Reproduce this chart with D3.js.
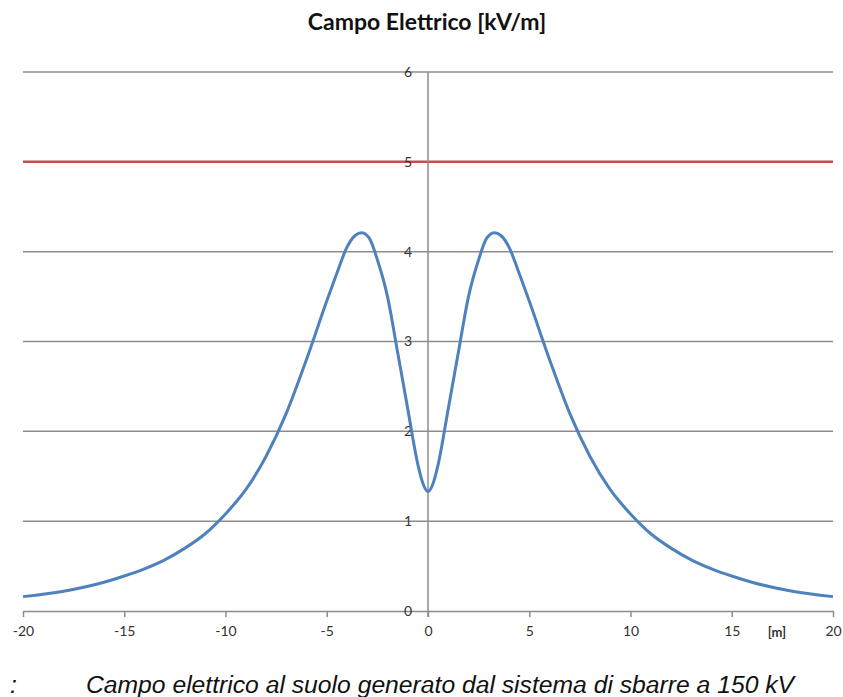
<!DOCTYPE html>
<html><head><meta charset="utf-8">
<script src="https://cdn.jsdelivr.net/npm/d3@7"></script>
<style>body{margin:0;background:#fff}svg{display:block}</style>
</head><body>
<svg id="c" width="843" height="697"></svg>
<script>
const xValues = [-20,-18,-16,-15,-14,-13,-12,-11,-10,-9,-8,-7,-6,-5,-4.5,-4,-3.6,-3.27,-2.9,-2.5,-2,-1.5,-1,-0.5,-0.25,0,
  0.25,0.5,1,1.5,2,2.5,2.9,3.27,3.6,4,4.5,5,6,7,8,9,10,11,12,13,14,15,16,18,20];
const eValues = [0.16,0.22,0.32,0.39,0.47,0.57,0.70,0.86,1.08,1.35,1.72,2.2,2.8,3.45,3.76,4.05,4.18,4.21,4.15,3.91,3.5,2.88,2.25,1.63,1.42,1.33,
  1.42,1.63,2.25,2.88,3.5,3.91,4.15,4.21,4.18,4.05,3.76,3.45,2.8,2.2,1.72,1.35,1.08,0.86,0.70,0.57,0.47,0.39,0.32,0.22,0.16];
const limitValue = 5;
const xTicks = [-20,-15,-10,-5,0,5,10,15,20];
const yTicks = [0,1,2,3,4,5,6];
const title = "Campo Elettrico [kV/m]";
const unitLabel = "[m]";
const caption = "Campo elettrico al suolo generato dal sistema di sbarre a 150 kV";

const svg = d3.select("#c");
const x = d3.scaleLinear().domain([-20,20]).range([23,833]);
const y = d3.scaleLinear().domain([0,6]).range([611,72]);
const tickFont = "Lato, 'Open Sans', sans-serif";

// horizontal gridlines
svg.append("g").selectAll("line").data(yTicks.filter(d=>d>0)).join("line")
  .attr("x1",x(-20)).attr("x2",x(20)).attr("y1",d=>y(d)).attr("y2",d=>y(d))
  .attr("stroke","#8c8c8c").attr("stroke-width",1.5);

// limit line
svg.append("line").attr("x1",x(-20)).attr("x2",x(20)).attr("y1",y(limitValue)).attr("y2",y(limitValue))
  .attr("stroke","#c0504d").attr("stroke-width",2.5);

// x axis
const xAxis = svg.append("g").attr("transform",`translate(0,${y(0)})`)
  .call(d3.axisBottom(x).tickValues(xTicks).tickSize(6).tickSizeOuter(0).tickPadding(9).tickFormat(d=>String(d)));
xAxis.select(".domain").attr("stroke","#8c8c8c").attr("stroke-width",1.5);
xAxis.selectAll(".tick line").attr("stroke","#8c8c8c").attr("stroke-width",1.5);
xAxis.selectAll(".tick text").attr("font-family",tickFont).attr("font-size",14).attr("fill","#333");

// y axis at x=0
const yAxis = svg.append("g").attr("transform",`translate(${x(0)},0)`)
  .call(d3.axisLeft(y).tickValues(yTicks).tickSize(0).tickPadding(16).tickFormat(d=>String(d)));
yAxis.select(".domain").attr("stroke","#8c8c8c").attr("stroke-width",1.5)
  .attr("d",`M0,${y(6)}V${y(0)+6}`);
yAxis.selectAll(".tick text").attr("font-family",tickFont).attr("font-size",14).attr("fill","#333");

// curve
const line = d3.line().x((d,i)=>x(xValues[i])).y(d=>y(d)).curve(d3.curveMonotoneX);
svg.append("path").datum(eValues).attr("d",line).attr("fill","none")
  .attr("stroke","#4f81bd").attr("stroke-width",3);

// title
svg.append("text").attr("x",427).attr("y",30).attr("text-anchor","middle")
  .attr("font-family",tickFont).attr("font-weight","bold").attr("font-size",23)
  .attr("fill","#111").text(title);

// unit
svg.append("text").attr("x",777).attr("y",637).attr("text-anchor","middle")
  .attr("font-family",tickFont).attr("font-weight","bold").attr("font-size",13)
  .attr("fill","#333").text(unitLabel);

// caption
svg.append("text").attr("x",10).attr("y",693)
  .attr("font-family","'Liberation Sans', Arial, sans-serif").attr("font-style","italic").attr("font-size",24.7)
  .attr("fill","#111").text(":");
svg.append("text").attr("x",440).attr("y",693).attr("text-anchor","middle")
  .attr("font-family","'Liberation Sans', Arial, sans-serif").attr("font-style","italic").attr("font-size",24.7)
  .attr("fill","#111").text(caption);
</script>
</body></html>
